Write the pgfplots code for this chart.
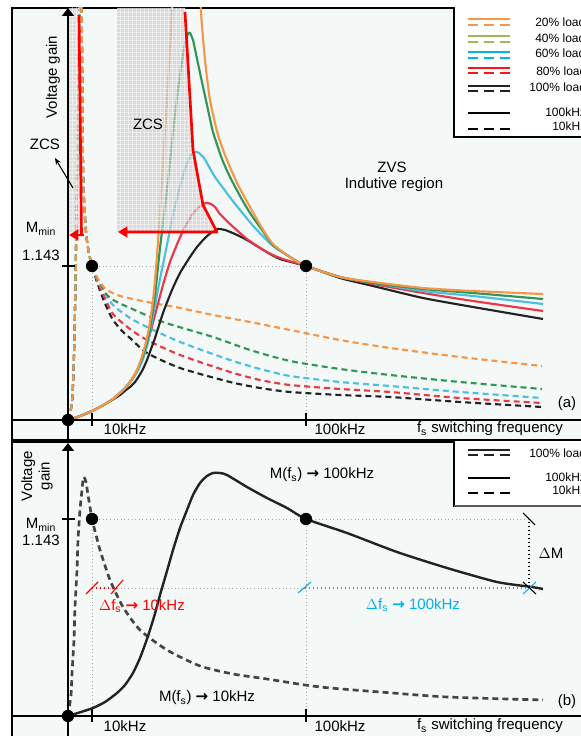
\documentclass[border=0pt]{standalone}
\usepackage{pgfplots}
\pgfplotsset{compat=1.18}
\usepackage{fontspec}
\setmainfont{Liberation Sans}
\newfontfamily\dv{DejaVu Sans}
\usetikzlibrary{arrows.meta,patterns}
\definecolor{bg}{RGB}{244,248,246}
\definecolor{cOr}{RGB}{247,150,70}
\definecolor{cGr}{RGB}{46,150,90}
\definecolor{cGrL}{RGB}{155,187,89}
\definecolor{cCy}{RGB}{75,190,225}
\definecolor{cCyL}{RGB}{0,176,240}
\definecolor{cRd}{RGB}{235,55,70}
\definecolor{cRdL}{RGB}{255,20,20}
\definecolor{cBk}{RGB}{35,35,35}
\definecolor{gridc}{RGB}{165,165,165}
\newcommand\fA{\fontsize{11.25}{13}\selectfont}
\newcommand\fL{\fontsize{9}{10}\selectfont}
\newcommand\ar{{\dv\bfseries →}}
\pgfplotsset{panel/.style={x=0.75pt, y=0.75pt, anchor=south west,
  axis background/.style={fill=bg}, xtick=\empty, ytick=\empty,
  enlargelimits=false, axis line style={line width=0.9pt, black}, clip=true},
  sol/.style={line width=1.6pt, smooth, tension=0.4, no marks},
  dsh/.style={line width=1.6pt, smooth, tension=0.4, no marks, dash pattern=on 4.5pt off 3pt}}
\tikzset{lg/.style={font=\fL, anchor=west, inner xsep=0pt}}
\begin{document}
\begin{tikzpicture}
\useasboundingbox (0,0) rectangle (435.75pt,552pt);
\clip (0,0) rectangle (435.75pt,552pt);
% ---------------- panel (a)
\begin{axis}[panel, at={(9pt,222pt)}, xmin=-56, xmax=520, ymin=-20, ymax=412]
\draw[gridc, dotted, line width=0.7pt] (axis cs:24,154)--(axis cs:238,154);
\draw[gridc, dotted, line width=0.7pt] (axis cs:24,154)--(axis cs:24,0);
\draw[gridc, dotted, line width=0.7pt] (axis cs:238,154)--(axis cs:238,0);
% 10 kHz (dashed)
\addplot[dsh, cBk] coordinates {(0,0)(2,6)(4,18)(5,35)(6,65)(7,110)(8,170)(9,240)(10,310)(11,380)(12,450)(13,450)(14,370)(14.5,310)(15,255)(16,220)(18,188)(20,172)(22,162)(24,154)
 (29,138)(34,124)(39,112)(45,100)(54,89)(62,82)(79,67)(112,52)(162,38)(192,32)(222,28)(272,25)(322,23)(392,18)(474,13)};
\addplot[dsh, cRd] coordinates {(0,0)(2,6)(4,18)(5,35)(6,65)(7,110)(8,170)(9,240)(10,310)(11,380)(12,450)(13,450)(14,370)(14.5,310)(15,255)(16,220)(18,188)(20,172)(22,162)(24,154)
 (29,140)(35,126)(45,106)(62,91)(79,80)(112,65)(162,48)(192,40)(222,35)(272,31)(322,28)(392,22)(474,17)};
\addplot[dsh, cCy] coordinates {(0,0)(2,6)(4,18)(5,35)(6,65)(7,110)(8,170)(9,240)(10,310)(11,380)(12,450)(13,450)(14,370)(14.5,310)(15,255)(16,220)(18,188)(20,172)(22,162)(24,154)
 (29,141)(35,130)(45,115)(62,102)(79,93)(112,78)(162,60)(192,51)(222,44)(272,38)(322,34)(392,28)(474,22)};
\addplot[dsh, cGr] coordinates {(0,0)(2,6)(4,18)(5,35)(6,65)(7,110)(8,170)(9,240)(10,310)(11,380)(12,450)(13,450)(14,370)(14.5,310)(15,255)(16,220)(18,188)(20,172)(22,162)(24,154)
 (29,142)(34,133)(39,125)(47,119)(62,112)(95,98)(145,83)(182,70)(222,59)(272,51)(322,45)(392,38)(474,31)};
\addplot[dsh, cOr] coordinates {(0,0)(2,6)(4,18)(5,35)(6,65)(7,110)(8,170)(9,240)(10,310)(11,380)(12,450)(13,450)(14,370)(14.5,310)(15,255)(16,220)(18,188)(20,172)(22,162)(24,154)
 (29,143)(34,135)(39,130)(52,124)(79,118)(112,112)(145,105)(182,98)(222,90)(272,80)(322,72)(392,63)(474,54)};
% 100 kHz (solid)
\addplot[sol, cBk] coordinates {(0,0)(8,2.5)(16,5.5)(24,9)(32,13)(39,17)(45,20.5)(52,25)(58,30)(62,33)(67,38)(71,44)(75,51)(79,60)(83,71)(87,82)(95,107)(104,130)(112,147)(122,163)(129,173)(137,182)(144,188)(150,191)(157,190)(167,186)(179,180)(197,169)(212,161)(238,154)(272,142)(305,134)(355,122)(405,113)(475,101)};
\addplot[sol, cRd] coordinates {(0,0)(8,2.5)(16,5.5)(24,9)(32,13)(39,17)(45,21)(52,27)(58,33)(62,38)(67,45)(71,53)(75,63)(79,75)(83,90)(87,105)(95,135)(102,158)(110,178)(117,193)(124,205)(130,212)(135,216)(139,217)(143,216)(147,213)(152,206)(162,196)(179,181)(197,169)(212,162)(238,154)(272,143)(305,136)(355,127)(405,119)(475,109)};
\addplot[sol, cCy] coordinates {(0,0)(8,2.5)(16,5.5)(24,9)(32,13)(39,17)(45,21)(52,27)(58,33)(62,38)(67,45)(71,52)(75,61)(80,78)(85,104)(92,141)(99,175)(105,205)(112,233)(118,254)(123,265)(127,268)(131,267)(136,262)(140,255)(147,243)(155,232)(164,220)(172,210)(187,192)(205,174)(222,163)(238,154)(272,143)(305,137)(355,129)(405,124)(475,116)};
\addplot[sol, cGr] coordinates {(0,0)(8,2.5)(16,5.5)(24,9)(32,13)(39,17)(45,21)(52,27)(58,33)(62,38)(67,46)(71,54)(75,64)(79,78)(82,92)(87,125)(92,172)(99,230)(105,287)(110,330)(114,358)(117,376)(120,386)(122,387)(125,380)(128,366)(132,347)(139,315)(145,288)(154,261)(162,243)(172,224)(182,207)(194,190)(205,175)(222,163)(238,154)(272,143)(305,137)(355,131)(405,127)(475,121)};
\addplot[sol, cOr] coordinates {(0,0)(8,2.5)(16,5.5)(24,9)(32,13)(39,17)(45,21)(52,27)(58,33)(62,38)(67,46)(71,55)(75,67)(79,82)(82,98)(85,120)(87,140)(90,178)(94,240)(99,320)(104,408)(107,470)(130,470)(133,408)(137,360)(142,320)(150,285)(159,260)(170,235)(182,213)(194,192)(205,176)(222,163)(238,154)(272,143)(305,138)(355,132)(405,129)(475,126)};
% ZCS shading
\fill[gray!40, opacity=0.65] (axis cs:49,412)--(axis cs:117,412)--(axis cs:117,408)--(axis cs:125,270)--(axis cs:135,215)--(axis cs:149,188)--(axis cs:49,188)--cycle;
\fill[pattern=grid, pattern color=white, opacity=0.45] (axis cs:49,412)--(axis cs:117,412)--(axis cs:117,408)--(axis cs:125,270)--(axis cs:135,215)--(axis cs:149,188)--(axis cs:49,188)--cycle;
\fill[gray!40, opacity=0.6] (axis cs:1,187) rectangle (axis cs:12,412);
\fill[pattern=grid, pattern color=white, opacity=0.45] (axis cs:1,187) rectangle (axis cs:12,412);
% red boundaries
\draw[red, line width=2pt, line join=round, -{Triangle[width=8pt,length=7pt]}] (axis cs:117,408)--(axis cs:125,270)--(axis cs:135,215)--(axis cs:149,188)--(axis cs:50,188);
\draw[red, line width=2pt] (axis cs:11,405)--(axis cs:13.5,185);
\draw[red, line width=2pt, -{Triangle[width=8pt,length=7pt]}] (axis cs:16,185)--(axis cs:1,185);
% axes
\draw[line width=1pt] (axis cs:-56,0)--(axis cs:520,0);
\draw[line width=1pt, -{Triangle[width=9pt,length=6pt]}] (axis cs:0,-20)--(axis cs:0,412);
\draw[line width=1pt] (axis cs:24,-6)--(axis cs:24,7);
\draw[line width=1pt] (axis cs:238,-6)--(axis cs:238,7);
\draw[line width=1pt] (axis cs:-6,154)--(axis cs:7,154);
\addplot[only marks, mark=*, mark size=4.4pt, black] coordinates {(24,154)(238,154)(0,0)};
% texts
\node[font=\fA, rotate=90] at (axis cs:-15,343) {Voltage gain};
\node[font=\fA] at (axis cs:-23,276) {ZCS};
\draw[-{Stealth[length=5pt,width=4pt]}, line width=0.8pt] (axis cs:5,232)--(axis cs:-13,262);
\node[font=\fA] at (axis cs:80,296) {ZCS};
\node[font=\fA] at (axis cs:324,253) {ZVS};
\node[font=\fA] at (axis cs:326,235) {Indutive region};
\node[font=\fA] at (axis cs:-27,191) {M\textsubscript{min}};
\node[font=\fA] at (axis cs:-27,165) {1.143};
\node[font=\fA] at (axis cs:499,16) {(a)};
\node[font=\fA] at (axis cs:57,-9) {10kHz};
\node[font=\fA] at (axis cs:272,-9) {100kHz};
\node[font=\fA] at (axis cs:422,-9) {f\textsubscript{s} switching frequency};
% legend (a)
\draw[fill=white, line width=0.8pt] (axis cs:386,283) rectangle (axis cs:540,420);
\draw[cOr, line width=1.3pt] (axis cs:400,401)--(axis cs:442,401);
\draw[cOr, line width=1.3pt, dash pattern=on 7.5pt off 4.5pt] (axis cs:400,395)--(axis cs:442,395);
\node[lg] at (axis cs:467,398) {20\% load};
\draw[cGrL, line width=1.3pt] (axis cs:400,384)--(axis cs:442,384);
\draw[cGrL, line width=1.3pt, dash pattern=on 7.5pt off 4.5pt] (axis cs:400,378)--(axis cs:442,378);
\node[lg] at (axis cs:467,382) {40\% load};
\draw[cCyL, line width=1.3pt] (axis cs:400,368)--(axis cs:442,368);
\draw[cCyL, line width=1.3pt, dash pattern=on 7.5pt off 4.5pt] (axis cs:400,362)--(axis cs:442,362);
\node[lg] at (axis cs:467,367) {60\% load};
\draw[cRdL, line width=1.3pt] (axis cs:400,352)--(axis cs:442,352);
\draw[cRdL, line width=1.3pt, dash pattern=on 7.5pt off 4.5pt] (axis cs:400,347)--(axis cs:442,347);
\node[lg] at (axis cs:468,349) {80\% load};
\draw[cBk, line width=1.3pt] (axis cs:400,334)--(axis cs:442,334);
\draw[cBk, line width=1.3pt, dash pattern=on 7.5pt off 4.5pt] (axis cs:400,329)--(axis cs:442,329);
\node[lg] at (axis cs:461,333) {100\% load};
\draw[black, line width=1.3pt] (axis cs:400,307)--(axis cs:442,307);
\node[lg] at (axis cs:477,308) {100kHz};
\draw[black, line width=1.3pt, dash pattern=on 7.5pt off 4.5pt] (axis cs:400,291)--(axis cs:442,291);
\node[lg] at (axis cs:484,294) {10kHz};
\end{axis}
% ---------------- panel (b)
\begin{axis}[panel, at={(9pt,-3pt)}, xmin=-56, xmax=520, ymin=-24, ymax=274]
\draw[gridc, dotted, line width=0.7pt] (axis cs:24,197)--(axis cs:460,197);
\draw[gridc, dotted, line width=0.7pt] (axis cs:24,197)--(axis cs:24,0);
\draw[gridc, dotted, line width=0.7pt] (axis cs:238,197)--(axis cs:238,0);
\draw[gridc, dotted, line width=0.7pt] (axis cs:24,128)--(axis cs:237,128);
\addplot[dsh, cBk!85, line width=2pt] coordinates {(0,0)(3,21)(4,43)(6,76)(7,109)(9,146)(10,176)(12,206)(14,226)(15,236)(16,239)(18,234)(20,221)(22,209)(24,197)(28,181)(32,166)(42,136)(55,109)(72,86)(99,66)(132,50)(165,42)(199,37)(237,31)(262,28)(312,24)(379,19)(475,16)};
\addplot[sol, cBk, line width=1.8pt] coordinates {(0,0)(13,4)(25,8)(37,14)(49,23)(57,31)(65,43)(72,58)(79,77)(86,99)(92,121)(99,145)(105,166)(112,188)(119,206)(125,221)(132,233)(139,240)(145,243)(152,243)(159,241)(179,229)(199,218)(219,208)(238,197)(279,183)(329,164)(379,148)(429,134)(464,129)(475,127)};
% delta annotations
\draw[red, dotted, line width=1pt] (axis cs:24,128)--(axis cs:49,128);
\draw[red, line width=0.8pt] (axis cs:18,122)--(axis cs:30,134);
\draw[red, line width=0.8pt] (axis cs:43,122)--(axis cs:55,136);
\draw[cCyL, dotted, line width=1pt] (axis cs:237,128)--(axis cs:460,128);
\draw[cCyL, line width=0.8pt] (axis cs:230,123)--(axis cs:243,134);
\draw[cCyL, line width=0.8pt] (axis cs:455,122)--(axis cs:468,134);
\draw[black, line width=0.8pt] (axis cs:455,134)--(axis cs:468,122);
\draw[black, dotted, line width=1pt] (axis cs:461,194)--(axis cs:461,129);
\draw[black, line width=0.8pt] (axis cs:455,203)--(axis cs:467,191);
\node[font=\fA] at (axis cs:483,163) {$\Delta$M};
\node[font=\fA, text=red] at (axis cs:74,110) {$\Delta$f\textsubscript{s} \ar{} 10kHz};
\node[font=\fA, text=cCyL] at (axis cs:345,111) {$\Delta$f\textsubscript{s} \ar{} 100kHz};
\node[font=\fA] at (axis cs:254,241) {M(f\textsubscript{s}) \ar{} 100kHz};
\node[font=\fA] at (axis cs:139,18) {M(f\textsubscript{s}) \ar{} 10kHz};
% axes
\draw[line width=1pt] (axis cs:-56,0)--(axis cs:520,0);
\draw[line width=1pt, -{Triangle[width=9pt,length=6pt]}] (axis cs:0,-24)--(axis cs:0,273);
\draw[line width=1pt] (axis cs:24,-6)--(axis cs:24,7);
\draw[line width=1pt] (axis cs:238,-6)--(axis cs:238,7);
\draw[line width=1pt] (axis cs:-6,197)--(axis cs:7,197);
\addplot[only marks, mark=*, mark size=4.4pt, black] coordinates {(24,197)(238,197)(0,0)};
\node[font=\fA, rotate=90, align=center] at (axis cs:-31,240) {Voltage\\gain};
\node[font=\fA] at (axis cs:-27,191) {M\textsubscript{min}};
\node[font=\fA] at (axis cs:-27,176) {1.143};
\node[font=\fA] at (axis cs:499,14) {(b)};
\node[font=\fA] at (axis cs:57,-10) {10kHz};
\node[font=\fA] at (axis cs:272,-10) {100kHz};
\node[font=\fA] at (axis cs:422,-10) {f\textsubscript{s} switching frequency};
% legend (b)
\draw[fill=white, line width=0.8pt] (axis cs:386,210) rectangle (axis cs:540,280);
\draw[gray!70!black, line width=1.5pt] (axis cs:386,210)--(axis cs:540,210);
\draw[cBk, line width=1.3pt] (axis cs:400,266)--(axis cs:442,266);
\draw[cBk, line width=1.3pt, dash pattern=on 7.5pt off 4.5pt] (axis cs:400,261)--(axis cs:442,261);
\node[lg] at (axis cs:461,263) {100\% load};
\draw[black, line width=1.3pt] (axis cs:400,238)--(axis cs:442,238);
\node[lg] at (axis cs:477,239) {100kHz};
\draw[black, line width=1.3pt, dash pattern=on 7.5pt off 4.5pt] (axis cs:400,223)--(axis cs:442,223);
\node[lg] at (axis cs:484,226) {10kHz};
\end{axis}
\end{tikzpicture}
\end{document}
